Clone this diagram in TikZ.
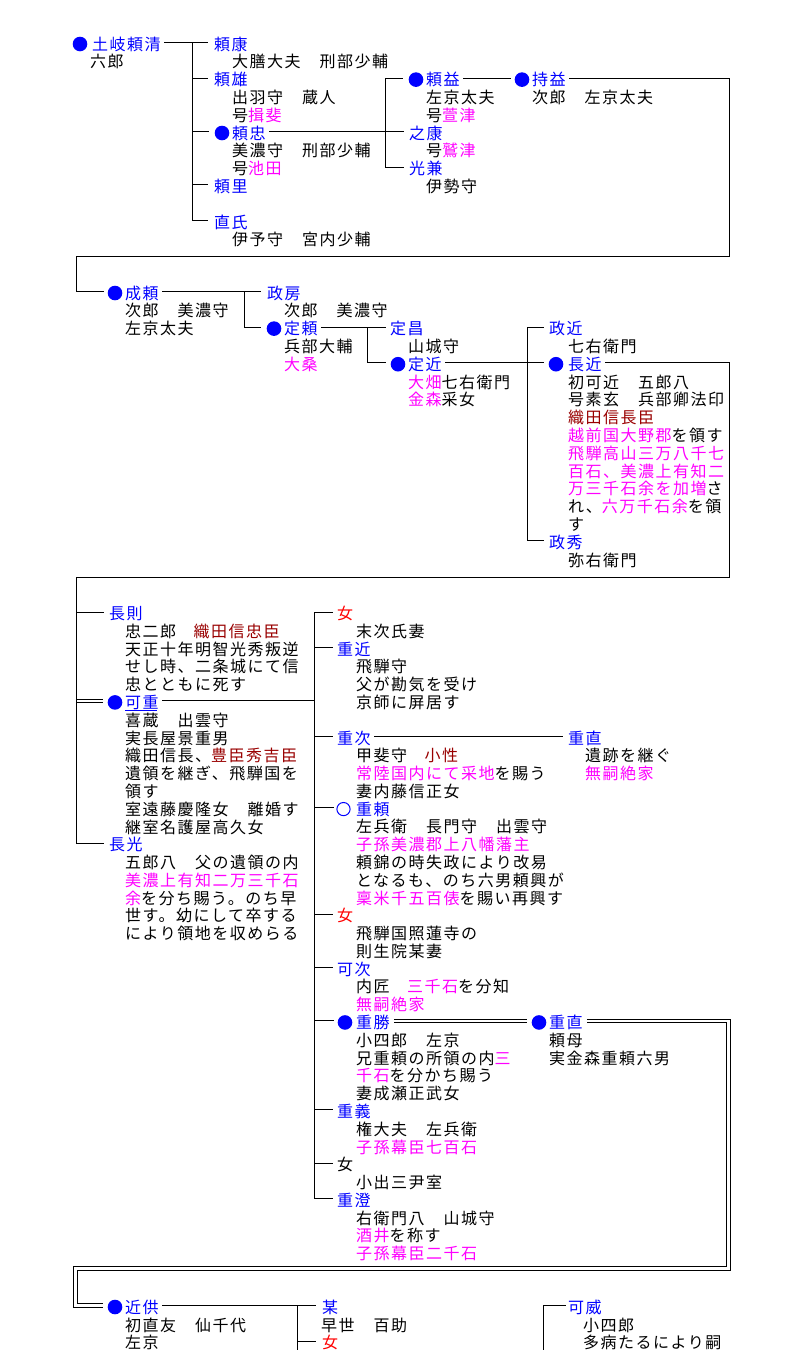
\documentclass[tikz,border=0pt]{standalone}
\usepackage{fontspec}
\setmainfont{Noto Sans CJK JP}[LetterSpace=9.4]
\definecolor{nb}{RGB}{0,0,255}
\definecolor{mgc}{RGB}{255,0,255}
\definecolor{drc}{RGB}{153,0,0}
\definecolor{rdc}{RGB}{255,0,0}
\newcommand\cmg[1]{\textcolor{mgc}{#1}}
\newcommand\cdr[1]{\textcolor{drc}{#1}}
\newcommand\dtl[1]{\vtop{\baselineskip=17.8pt\lineskiplimit=-20pt\lineskip=0pt #1}}
\newcommand\rowA[1]{42.5+17.8*(#1)}
\newcommand\rowB[1]{291.5+17.8*(#1)}
\newcommand\rowC[1]{612+17.78*(#1)}
\newcommand\rowD[1]{1305.5+17.9*(#1)}
\newcommand\bdot[2][10]{\fill[nb] ([xshift=-#1pt,yshift=-1.5pt]#2.west) circle (7.3pt);}
\tikzset{
  nm/.style={anchor=west, inner sep=0pt, text height=15.2pt, text depth=0pt, text=nb},
  dt/.style={anchor=base west, inner sep=0pt},
  conn/.style={line width=1pt, line cap=rect},
  dbl/.style={double, double distance=2.2pt, line width=1pt},
}
\begin{document}
\begin{tikzpicture}[x=1pt,y=-1pt, every node/.style={font=\fontsize{16pt}{17.8pt}\selectfont}]
\fill[white] (0,0) rectangle (794,1350);
\useasboundingbox (0,0) rectangle (794,1350);

% ---------------- Block 1 ----------------
\node[nm] (yorikiyo) at (92,{\rowA{0}}) {土岐頼清};
\bdot[12]{yorikiyo}
\node[dt] (yorikiyoD) at (90,{\rowA{1}+7.6}) {\dtl{\hbox{六郎}}};
\node[nm] (yoriyasu) at (214,{\rowA{0}}) {頼康};
\node[dt] (yoriyasuD) at (232,{\rowA{1}+7.6}) {\dtl{\hbox{大膳大夫　刑部少輔}}};
\node[nm] (yorio) at (214,{\rowA{2}}) {頼雄};
\node[dt] (yorioD) at (232,{\rowA{3}+7.6}) {\dtl{\hbox{出羽守　蔵人}\hbox{号\cmg{揖斐}}}};
\node[nm] (yoritada) at (232,{\rowA{5}}) {頼忠};
\bdot{yoritada}
\node[dt] (yoritadaD) at (232,{\rowA{6}+7.6}) {\dtl{\hbox{美濃守　刑部少輔}\hbox{号\cmg{池田}}}};
\node[nm] (yorisato) at (214,{\rowA{8}}) {頼里};
\node[nm] (naouji) at (214,{\rowA{10}}) {直氏};
\node[dt] (naoujiD) at (232,{\rowA{11}+7.6}) {\dtl{\hbox{伊予守　宮内少輔}}};

\coordinate (tA) at (192,{\rowA{0}});
\draw[conn] ([xshift=4pt]yorikiyo.east) -- ([xshift=-7pt]yoriyasu.west);
\draw[conn] (tA) |- ([xshift=-7pt]naouji.west);
\foreach \n in {yorio,yorisato} \draw[conn] (tA |- \n.west) -- ([xshift=-7pt]\n.west);
\draw[conn] (tA |- yoritada.west) -- ([xshift=-24pt]yoritada.west);

\node[nm] (yorimasu) at (426,{\rowA{2}}) {頼益};
\bdot{yorimasu}
\node[dt] (yorimasuD) at (426,{\rowA{3}+7.6}) {\dtl{\hbox{左京太夫}\hbox{号\cmg{萱津}}}};
\node[nm] (yukiyasu) at (409,{\rowA{5}}) {之康};
\node[dt] (yukiyasuD) at (426,{\rowA{6}+7.6}) {\dtl{\hbox{号\cmg{鷲津}}}};
\node[nm] (mitsukane) at (409,{\rowA{7}}) {光兼};
\node[dt] (mitsukaneD) at (426,{\rowA{8}+7.6}) {\dtl{\hbox{伊勢守}}};
\coordinate (tB) at (385,{\rowA{2}});
\draw[conn] ([xshift=4pt]yoritada.east) -- ([xshift=-6pt]yukiyasu.west);
\draw[conn] ([xshift=-24pt]yorimasu.west) -- (tB) |- ([xshift=-6pt]mitsukane.west);

\node[nm] (mochimasu) at (532,{\rowA{2}}) {持益};
\bdot{mochimasu}
\node[dt] (mochimasuD) at (532,{\rowA{3}+7.6}) {\dtl{\hbox{次郎　左京太夫}}};
\draw[conn] ([xshift=4pt]yorimasu.east) -- ([xshift=-22pt]mochimasu.west);

\coordinate (wr1) at (729.5,256);
\coordinate (wl1) at (76,256);

% ---------------- Block 2 ----------------
\node[nm] (nariyori) at (125,{\rowB{0}}) {成頼};
\bdot{nariyori}
\node[dt] (nariyoriD) at (125,{\rowB{1}+7.6}) {\dtl{\hbox{次郎　美濃守}\hbox{左京太夫}}};
\draw[conn] ([xshift=4pt]mochimasu.east) -| (wr1) -- (wl1) |- ([xshift=-22pt]nariyori.west);

\node[nm] (masafusa) at (267,{\rowB{0}}) {政房};
\node[dt] (masafusaD) at (284,{\rowB{1}+7.6}) {\dtl{\hbox{次郎　美濃守}}};
\node[nm] (sadayori) at (284,{\rowB{2}}) {定頼};
\bdot{sadayori}
\node[dt] (sadayoriD) at (284,{\rowB{3}+7.6}) {\dtl{\hbox{兵部大輔}\hbox{\cmg{大桑}}}};
\coordinate (tC) at (244,{\rowB{0}});
\draw[conn] ([xshift=4pt]nariyori.east) -- ([xshift=-7pt]masafusa.west);
\draw[conn] (tC) |- ([xshift=-24pt]sadayori.west);

\node[nm] (sadamasa) at (390,{\rowB{2}}) {定昌};
\node[dt] (sadamasaD) at (408,{\rowB{3}+7.6}) {\dtl{\hbox{山城守}}};
\node[nm] (sadachika) at (408,{\rowB{4}}) {定近};
\bdot{sadachika}
\node[dt] (sadachikaD) at (408,{\rowB{5}+7.6}) {\dtl{\hbox{\cmg{大畑}七右衛門}\hbox{\cmg{金森}采女}}};
\coordinate (tD) at (367,{\rowB{2}});
\draw[conn] ([xshift=4pt]sadayori.east) -- ([xshift=-5pt]sadamasa.west);
\draw[conn] (tD) |- ([xshift=-23pt]sadachika.west);

\node[nm] (masachika) at (549,{\rowB{2}}) {政近};
\node[dt] (masachikaD) at (568,{\rowB{3}+7.6}) {\dtl{\hbox{七右衛門}}};
\node[nm] (nagachika) at (568,{\rowB{4}}) {長近};
\bdot[12]{nagachika}
\node[dt] (nagachikaD) at (568,{\rowB{5}+7.6}) {\dtl{%
  \hbox{初可近　五郎八}%
  \hbox{号素玄　兵部卿法印}%
  \hbox{\cdr{織田信長臣}}%
  \hbox{\cmg{越前国大野郡}を領す}%
  \hbox{\cmg{飛騨高山三万八千七}}%
  \hbox{\cmg{百石、美濃上有知二}}%
  \hbox{\cmg{万三千石余を加増}さ}%
  \hbox{れ、\cmg{六万千石余}を領}%
  \hbox{す}}};
\node[nm] (masahide) at (549,{\rowB{14}}) {政秀};
\node[dt] (masahideD) at (568,{\rowB{15}+7.6}) {\dtl{\hbox{弥右衛門}}};
\coordinate (tE) at (527,{\rowB{2}});
\draw[conn] ([xshift=-6pt]masachika.west) -- (tE) |- ([xshift=-6pt]masahide.west);
\draw[conn] ([xshift=4pt]sadachika.east) -- ([xshift=-25pt]nagachika.west);

\coordinate (wr2) at (729.5,577);
\coordinate (wl2) at (76,577);

% ---------------- Block 3 ----------------
\node[nm] (nori) at (109,{\rowC{0}}) {長則};
\node[dt] (noriD) at (125,{\rowC{1}+7.6}) {\dtl{%
  \hbox{忠二郎　\cdr{織田信忠臣}}%
  \hbox{天正十年明智光秀叛逆}%
  \hbox{せし時、二条城にて信}%
  \hbox{忠とともに死す}}};
\node[nm] (arishige) at (125,{\rowC{5}}) {可重};
\bdot{arishige}
\draw[nb, line width=0.8pt] ([yshift=-9pt]arishige.west) -- ([yshift=-9pt,xshift=-1.5pt]arishige.east);
\node[dt] (arishigeD) at (125,{\rowC{6}+7.6}) {\dtl{%
  \hbox{喜蔵　出雲守}%
  \hbox{実長屋景重男}%
  \hbox{織田信長、\cdr{豊臣秀吉臣}}%
  \hbox{遺領を継ぎ、飛騨国を}%
  \hbox{領す}%
  \hbox{室遠藤慶隆女　離婚す}%
  \hbox{継室名護屋高久女}}};
\node[nm] (nagamitsu) at (109,{\rowC{13}}) {長光};
\node[dt] (nagamitsuD) at (125,{\rowC{14}+7.6}) {\dtl{%
  \hbox{五郎八　父の遺領の内}%
  \hbox{\cmg{美濃上有知二万三千石}}%
  \hbox{\cmg{余}を分ち賜う。のち早}%
  \hbox{世す。幼にして卒する}%
  \hbox{により領地を収めらる}}};

\draw[dbl] (wl2 |- arishige.west) -- ([xshift=-22pt]arishige.west);
\draw[conn] ([xshift=4pt]nagachika.east) -| (wr2) -- (wl2) |- ([xshift=-6pt]nagamitsu.west);
\draw[conn] (wl2 |- nori.west) -- ([xshift=-6pt]nori.west);

% right column
\node[nm, text=rdc] (onnaA) at (337,{\rowC{0}}) {女};
\node[dt] (onnaAD) at (356,{\rowC{1}+7.6}) {\dtl{\hbox{末次氏妻}}};
\node[nm] (shigechika) at (337,{\rowC{2}}) {重近};
\node[dt] (shigechikaD) at (356,{\rowC{3}+7.6}) {\dtl{\hbox{飛騨守}\hbox{父が勘気を受け}\hbox{京師に屏居す}}};
\node[nm] (shigetsugu) at (337,{\rowC{7}}) {重次};
\node[dt] (shigetsuguD) at (356,{\rowC{8}+7.6}) {\dtl{%
  \hbox{甲斐守　\cdr{小性}}%
  \hbox{\cmg{常陸国内にて采地}を賜う}%
  \hbox{妻内藤信正女}}};
\node[nm] (shigeyori) at (356,{\rowC{11}}) {重頼};
\draw[nb, line width=1pt] ([xshift=-12.5pt,yshift=-1.5pt]shigeyori.west) circle (6.6pt);
\node[dt] (shigeyoriD) at (356,{\rowC{12}+7.6}) {\dtl{%
  \hbox{左兵衛　長門守　出雲守}%
  \hbox{\cmg{子孫美濃郡上八幡藩主}}%
  \hbox{頼錦の時失政により改易}%
  \hbox{となるも、のち六男頼興が}%
  \hbox{\cmg{稟米千五百俵}を賜い再興す}}};
\node[nm, text=rdc] (onnaB) at (337,{\rowC{17}}) {女};
\node[dt] (onnaBD) at (356,{\rowC{18}+7.6}) {\dtl{\hbox{飛騨国照蓮寺の}\hbox{則生院某妻}}};
\node[nm] (aritsugu) at (337,{\rowC{20}}) {可次};
\node[dt] (aritsuguD) at (356,{\rowC{21}+7.6}) {\dtl{\hbox{内匠　\cmg{三千石}を分知}\hbox{\cmg{無嗣絶家}}}};
\node[nm] (shigekatsu) at (356,{\rowC{23}}) {重勝};
\bdot[11]{shigekatsu}
\node[dt] (shigekatsuD) at (356,{\rowC{24}+7.6}) {\dtl{%
  \hbox{小四郎　左京}%
  \hbox{兄重頼の所領の内\cmg{三}}%
  \hbox{\cmg{千石}を分かち賜う}%
  \hbox{妻成瀬正武女}}};
\node[nm] (shigeyoshi) at (337,{\rowC{28}}) {重義};
\node[dt] (shigeyoshiD) at (356,{\rowC{29}+7.6}) {\dtl{\hbox{権大夫　左兵衛}\hbox{\cmg{子孫幕臣七百石}}}};
\node[nm, text=black] (onnaC) at (337,{\rowC{31}}) {女};
\node[dt] (onnaCD) at (356,{\rowC{32}+7.6}) {\dtl{\hbox{小出三尹室}}};
\node[nm] (shigezumi) at (337,{\rowC{33}}) {重澄};
\node[dt] (shigezumiD) at (356,{\rowC{34}+7.6}) {\dtl{%
  \hbox{右衛門八　山城守}%
  \hbox{\cmg{酒井}を称す}%
  \hbox{\cmg{子孫幕臣二千石}}}};

\coordinate (tF) at (314,{\rowC{0}});
\draw[conn] ([xshift=4pt]arishige.east) -- (tF |- arishige.west);
\draw[conn] ([xshift=-5pt]onnaA.west) -- (tF) |- ([xshift=-5pt]shigezumi.west);
\foreach \n in {shigechika,shigetsugu,onnaB,aritsugu,shigeyoshi,onnaC}
  \draw[conn] (tF |- \n.west) -- ([xshift=-5pt]\n.west);
\foreach \n in {shigeyori,shigekatsu}
  \draw[conn] (tF |- \n.west) -- ([xshift=-23pt]\n.west);

\node[nm] (shigenaoA) at (568,{\rowC{7}}) {重直};
\node[dt] (shigenaoAD) at (585,{\rowC{8}+7.6}) {\dtl{\hbox{遺跡を継ぐ}\hbox{\cmg{無嗣絶家}}}};
\draw[conn] ([xshift=4pt]shigetsugu.east) -- ([xshift=-6pt]shigenaoA.west);

\node[nm] (shigenaoB) at (549,{\rowC{23}}) {重直};
\bdot{shigenaoB}
\node[dt] (shigenaoBD) at (549,{\rowC{24}+7.6}) {\dtl{\hbox{頼母}\hbox{実金森重頼六男}}};
\draw[dbl] ([xshift=4pt]shigekatsu.east) -- ([xshift=-22pt]shigenaoB.west);

\coordinate (wr3) at (728.5,1268.5);
\coordinate (wl3) at (75.5,1268.5);

% ---------------- Block 4 ----------------
\node[nm] (chikatomo) at (125,{\rowD{0}}) {近供};
\bdot{chikatomo}
\node[dt] (chikatomoD) at (125,{\rowD{1}+7.6}) {\dtl{\hbox{初直友　仙千代}\hbox{左京}}};
\draw[dbl] ([xshift=4pt]shigenaoB.east) -| (wr3) -- (wl3) |- ([xshift=-22pt]chikatomo.west);

\node[nm] (bou) at (322,{\rowD{0}}) {某};
\node[dt] (bouD) at (321,{\rowD{1}+7.6}) {\dtl{\hbox{早世　百助}}};
\node[nm, text=rdc] (onnaD) at (322,{\rowD{2}}) {女};
\coordinate (tG) at (297,{\rowD{0}});
\coordinate (tGb) at (297,1355);
\draw[conn] ([xshift=4pt]chikatomo.east) -- ([xshift=-7pt]bou.west);
\draw[conn] (tG) -- (tGb);
\draw[conn] (tG |- onnaD.west) -- ([xshift=-7pt]onnaD.west);

\node[nm] (aritake) at (568,{\rowD{0}}) {可威};
\node[dt] (aritakeD) at (583,{\rowD{1}+7.6}) {\dtl{\hbox{小四郎}\hbox{多病たるにより嗣}}};
\coordinate (tH) at (543,{\rowD{0}});
\coordinate (tHb) at (543,1355);
\draw[conn] ([xshift=-3pt]aritake.west) -- (tH) -- (tHb);
\end{tikzpicture}
\end{document}
